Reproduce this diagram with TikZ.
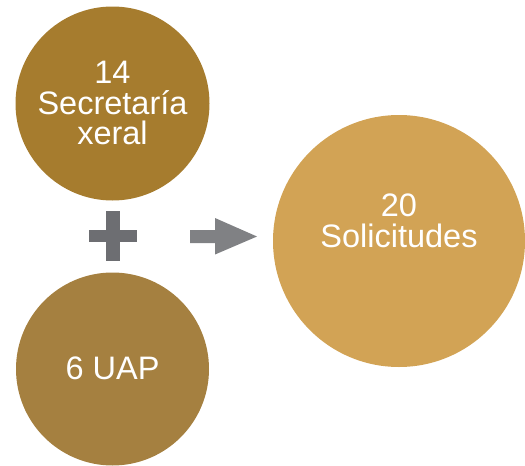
\documentclass[tikz,border=0pt]{standalone}
\usepackage{fontspec}
\setmainfont{Liberation Sans}
\definecolor{cone}{HTML}{A67C2E}
\definecolor{ctwo}{HTML}{A58040}
\definecolor{cbig}{HTML}{D2A355}
\definecolor{cplus}{HTML}{6D6E72}
\definecolor{carrow}{HTML}{808184}
\begin{document}
\begin{tikzpicture}[x=1pt,y=-1pt,
  disc/.style={circle,inner sep=0pt,draw=none},
  label/.style={text=white,align=center,font=\fontsize{32.5}{30.5}\selectfont,inner sep=0pt}]
\useasboundingbox (0,0) rectangle (525,466);
\node[disc,fill=cone,minimum size=194pt] (sec) at (112.5,103.5) {};
\node[disc,fill=ctwo,minimum size=193pt] (uap) at (112.5,369) {};
\node[disc,fill=cbig,minimum size=252pt] (sol) at (399,241) {};
\node[label] (sectxt) at (112.5,103) {14\\Secretaría\\xeral};
\node[label] (uaptxt) at (112.5,368) {6 UAP};
\node[label] (soltxt) at (399,221) {20\\Solicitudes};
\coordinate (plus) at (113,236);
\fill[cplus] ([xshift=-24pt,yshift=-6pt]plus) rectangle ([xshift=24pt,yshift=6pt]plus);
\fill[cplus] ([xshift=-7pt,yshift=-25pt]plus) rectangle ([xshift=7pt,yshift=25pt]plus);
\coordinate (arr) at (190,236.5);
\fill[carrow] (arr) ++(0,-6.5) -- ++(25,0) -- ++(0,-12) -- (257,236.5) -- (215,254.5) -- ++(0,-11.5) -- (190,243) -- cycle;
\end{tikzpicture}
\end{document}
